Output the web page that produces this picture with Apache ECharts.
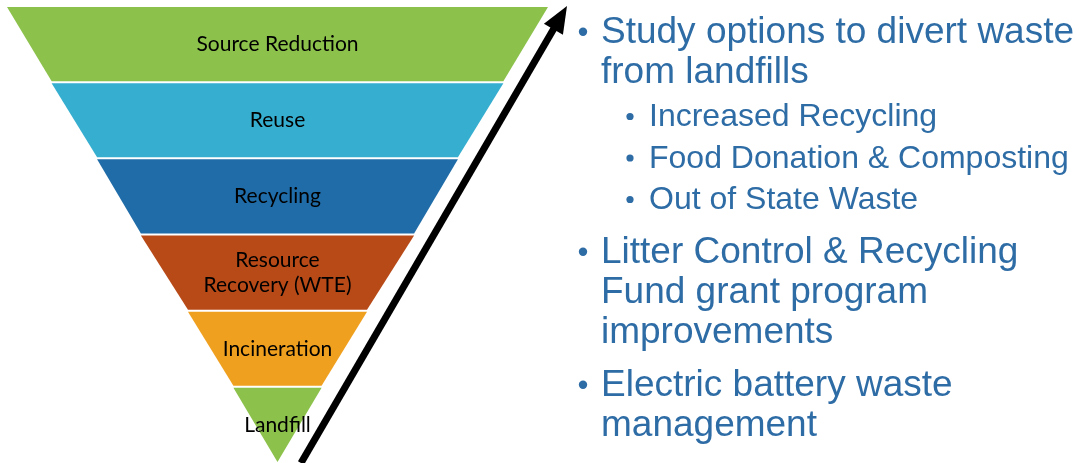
<!DOCTYPE html>
<html>
<head>
<meta charset="utf-8">
<script src="https://cdn.jsdelivr.net/npm/echarts@6/dist/echarts.min.js"></script>
<style>
html,body{margin:0;padding:0;background:#fff;}
#chart{width:1084px;height:463px;}
</style>
</head>
<body>
<div id="chart"></div>
<script>
// ---- data ----
const levels = ["Source Reduction", "Reuse", "Recycling", "Resource\nRecovery (WTE)", "Incineration", "Landfill"];
const levelWidths = [100, 83.5, 66.7, 50.5, 33.1, 16.3];
const levelColors = ["#8cc14b", "#36aecf", "#1f6ca8", "#b84a18", "#f0a01f", "#8cc14b"];

const bullet1 = ["Study options to divert waste", "from landfills"];
const bullet1Subs = ["Increased Recycling", "Food Donation & Composting", "Out of State Waste"];
const bullet2 = ["Litter Control & Recycling", "Fund grant program", "improvements"];
const bullet3 = ["Electric battery waste", "management"];

// ---- layout ----
const textColor = "#2e6ca6";
const mainFont = 37, subFont = 32;
const mainX = 601, subX = 649, mainDotX = 583, subDotX = 630;

const graphics = [];
function addLine(text, x, baseline, size) {
  graphics.push({
    type: 'text', silent: true,
    style: { x: x, y: baseline - size * 0.36 + 3, text: text, fill: textColor,
      font: size + 'px "Liberation Sans", Arial, sans-serif', verticalAlign: 'middle', align: 'left' }
  });
}
function addDot(x, baseline, size, r) {
  graphics.push({ type: 'circle', silent: true,
    shape: { cx: x, cy: baseline - size * 0.36 + 2, r: r }, style: { fill: textColor } });
}
let b = 43;
function mainBullet(lines) {
  addDot(mainDotX, b, mainFont, 4.2);
  lines.forEach((t, i) => { if (i) b += 40; addLine(t, mainX, b, mainFont); });
}
mainBullet(bullet1);
b += 43;
bullet1Subs.forEach((t, i) => { if (i) b += 41.5; addDot(subDotX, b, subFont, 3.6); addLine(t, subX, b, subFont); });
b += 54;
mainBullet(bullet2);
b += 53;
mainBullet(bullet3);

// arrow
const tail = [301, 463], tip = [567, 6];
const dx = tip[0] - tail[0], dy = tip[1] - tail[1], len = Math.hypot(dx, dy);
const ux = dx / len, uy = dy / len, nx = -uy, ny = ux;
const hl = 27, hw = 11;
const base = [tip[0] - hl * ux, tip[1] - hl * uy];
graphics.push({ type: 'line', silent: true,
  shape: { x1: tail[0], y1: tail[1], x2: base[0] + 3 * ux, y2: base[1] + 3 * uy },
  style: { stroke: '#000', lineWidth: 7 } });
graphics.push({ type: 'polygon', silent: true,
  shape: { points: [tip, [base[0] + hw * nx, base[1] + hw * ny], [base[0] - hw * nx, base[1] - hw * ny]] },
  style: { fill: '#000' } });

const chart = echarts.init(document.getElementById('chart'), null, { renderer: 'canvas' });
chart.setOption({
  animation: false,
  backgroundColor: '#fff',
  series: [{
    type: 'funnel',
    left: 7, top: 7, width: 541, height: 455,
    min: 0, max: 100, minSize: '0%', maxSize: '100%',
    sort: 'descending', gap: 2,
    label: { show: true, position: 'inside', color: '#000',
      fontFamily: 'Lato', fontSize: 21, lineHeight: 25 },
    labelLine: { show: false },
    itemStyle: { borderWidth: 0 },
    emphasis: { disabled: true },
    data: levels.map((n, i) => ({ name: n, value: levelWidths[i], itemStyle: { color: levelColors[i] } }))
  }],
  graphic: graphics
});
</script>
</body>
</html>
